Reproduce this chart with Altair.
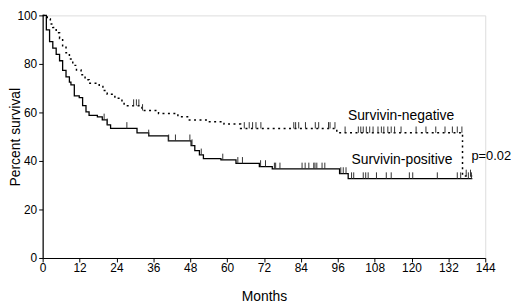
import altair as alt
import pandas as pd
import numpy as np

# Survivin-positive (solid) step curve
pos_month = [0, 1.2, 2.25, 3.3, 4.4, 5.5, 6.5, 7.6, 8.7, 9.2, 10.3, 11.9, 13.0, 14.1, 15.1, 17.8, 19.4, 21.0, 22.1,
             30.7, 34.5, 40.9, 48.3, 49.5, 51.0, 52.3, 58.0, 62.9, 70.5, 74.7, 96.6, 99.4, 139.8]
pos_surv = [100, 94, 89.2, 86.5, 83.9, 81.3, 77.3, 74.7, 72.5, 71.4, 66.8, 66.1, 62.8, 60.2, 58.8, 58.2, 56.9, 54.9, 53.4,
            51.6, 50.3, 48.3, 46.3, 44.3, 42.5, 41.0, 40.4, 39.0, 37.7, 36.7, 34.8, 32.7, 32.7]

# Survivin-negative (dotted) step curve
neg_month = [0, 1.5, 2.5, 3.3, 4.4, 5.5, 6.5, 7.6, 8.7, 9.8, 11.0, 12.5, 13.8, 15.1, 18.4, 19.6, 21.0, 23.5, 25.8,
             26.5, 32.3, 37.7, 44.0, 47.4, 53.8, 59.0, 64.4, 95.7, 136.6, 140.0]
neg_surv = [100, 98.5, 96.5, 95, 92.8, 90.5, 87.5, 84.6, 82, 79.4, 77.5, 75.5, 73.5, 72, 70.7, 69, 67.5, 65.8, 64.1,
            62.8, 60.8, 59.6, 58.2, 56.9, 56.2, 55.2, 53.4, 51.6, 33.8, 33.8]

# censored observations (months)
pos_cens = [20.0, 21.0, 27.4, 34.5, 41.0, 43.2, 47.9, 48.6, 51.6, 58.6, 63.5, 65.0, 70.9, 72.5, 75.4, 75.8, 77.2,
            84.4, 85.4, 86.6, 88.2, 88.6, 89.2, 90.9, 91.8, 97.0, 97.8, 98.7, 100.5, 101.2, 104.3, 105.1, 105.9,
            108.6, 111.8, 113.4, 119.3, 120.4, 128.4, 134.9, 136.0, 138.5, 139.5]
neg_cens = [29.6, 30.5, 31.3, 32.5, 65.6, 67.2, 68.3, 69.4, 71.0, 81.7, 82.3, 83.3, 85.5, 88.7, 89.8, 93.0, 93.5,
            95.1, 98.4, 102.7, 103.5, 104.3, 105.3, 106.4, 107.5, 109.1, 110.2, 111.0, 112.3, 113.4, 114.5,
            116.6, 121.5, 124.7, 127.9, 130.9, 133.3, 134.9, 136.4, 137.8, 139.2]

labels = ["Survivin-negative", "Survivin-positive", "p=0.02"]
label_month = [116.6, 116.9, 139.5]
label_surv = [58.7, 40.2, 42.2]
label_align = ["center", "center", "left"]

x_ticks = list(range(0, 145, 12))
y_ticks = [0, 20, 40, 60, 80, 100]

FONT = "Liberation Sans"
W, H = 447, 245


def step_value(months, survs, t):
    idx = np.searchsorted(np.array(months), t, side="right") - 1
    return float(np.array(survs)[idx])


pos_df = pd.DataFrame({"month": pos_month, "surv": pos_surv})
neg_df = pd.DataFrame({"month": neg_month, "surv": neg_surv})
cens_df = pd.DataFrame(
    {"month": pos_cens + neg_cens,
     "surv": [step_value(pos_month, pos_surv, t) for t in pos_cens]
     + [step_value(neg_month, neg_surv, t) for t in neg_cens]}
)
lab_df = pd.DataFrame({"text": labels, "month": label_month, "surv": label_surv, "align": label_align})

xs = alt.Scale(domain=[0, 144], nice=False, zero=False)
ys = alt.Scale(domain=[0, 100], nice=False)

xaxis = alt.Axis(values=x_ticks, title="Months", grid=False, domainColor="black", tickColor="black",
                 tickSize=4, labelColor="black", labelFont=FONT, labelFontSize=12, labelPadding=1,
                 labelOverlap=False, labelFlush=False,
                 titleFont=FONT, titleFontSize=14, titleFontWeight="normal", titleColor="black",
                 titlePadding=16, domainWidth=1.2, tickWidth=1)
yaxis = alt.Axis(values=y_ticks, title="Percent survival", grid=False, domainColor="black",
                 tickColor="black", tickSize=4, labelColor="black", labelFont=FONT, labelFontSize=12,
                 labelPadding=2, labelOverlap=False, labelFlush=False,
                 titleFont=FONT, titleFontSize=14, titleFontWeight="normal",
                 titleColor="black", titleX=-27, titleY=H / 2, titleBaseline="middle",
                 domainWidth=1.2, tickWidth=1)

xenc = alt.X("month:Q", scale=xs, axis=xaxis)
yenc = alt.Y("surv:Q", scale=ys, axis=yaxis)

pos_line = alt.Chart(pos_df).mark_line(interpolate="step-after", color="black", strokeWidth=1.3).encode(
    x=xenc, y=yenc)
neg_line = alt.Chart(neg_df).mark_line(interpolate="step-after", color="black", strokeWidth=1.5,
                                       strokeDash=[2, 3.5]).encode(x=xenc, y=yenc)
cens = alt.Chart(cens_df).transform_calculate(top="datum.surv + 2.6").mark_rule(
    color="#333333", strokeWidth=1).encode(x=xenc, y=yenc, y2="top:Q")

text_c = alt.Chart(lab_df[lab_df["align"] == "center"]).mark_text(
    font=FONT, fontSize=14, color="black", align="center", baseline="middle").encode(
    x=xenc, y=yenc, text="text:N")
text_l = alt.Chart(lab_df[lab_df["align"] == "left"]).mark_text(
    font=FONT, fontSize=13, color="black", align="left", baseline="middle").encode(
    x=xenc, y=yenc, text="text:N")

chart = alt.layer(pos_line, neg_line, cens, text_c, text_l).properties(
    width=W, height=H,
    autosize=alt.AutoSizeParams(type="none"),
    padding={"left": 35, "top": 6, "right": 27, "bottom": 45},
).configure_view(stroke=None).configure_axis(labelOverlap=False).configure(background="white")

chart.save("out.html", embed_options={"renderer": "svg", "actions": False})
